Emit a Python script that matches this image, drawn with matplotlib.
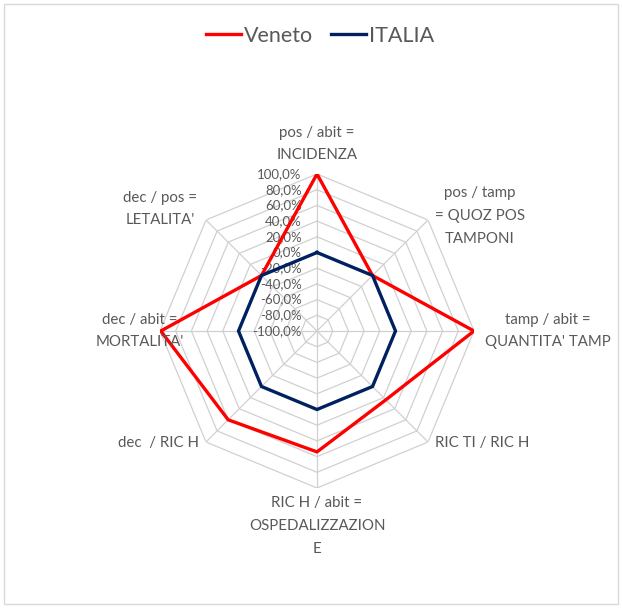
import numpy as np
import matplotlib
matplotlib.use('Agg')
from matplotlib import pyplot as plt
from matplotlib.patches import Rectangle

plt.rcParams['font.family'] = ['Lato', 'DejaVu Sans']

CATEGORIES = [
    "pos / abit =\nINCIDENZA",
    "pos / tamp\n= QUOZ POS\nTAMPONI",
    "tamp / abit =\nQUANTITA' TAMP",
    "RIC TI / RIC H",
    "RIC H / abit =\nOSPEDALIZZAZION\nE",
    "dec  / RIC H",
    "dec / abit =\nMORTALITA'",
    "dec / pos =\nLETALITA'",
]
VENETO = [100.0, 0.0, 100.0, 24.0, 54.0, 60.0, 99.0, 0.0]
ITALIA = [0.0, 0.0, 0.0, 0.0, 0.0, 0.0, 0.0, 0.0]
TICKS = [-100, -80, -60, -40, -20, 0, 20, 40, 60, 80, 100]

TEXT = '#595959'
GRID = '#D0D0D0'

W, H = 622, 608
fig = plt.figure(figsize=(W / 100, H / 100), dpi=100)
fig.patches.append(Rectangle((4 / W, 4 / H), 1 - 8 / W, 1 - 8 / H,
                             transform=fig.transFigure, fill=False,
                             edgecolor='#D9D9D9', linewidth=1))

cx, cy, rad = 317, 331, 157
ax = fig.add_axes([(cx - rad) / W, 1 - (cy + rad) / H, 2 * rad / W, 2 * rad / H],
                  projection='polar')
ax.set_theta_zero_location('N')
ax.set_theta_direction(-1)
ax.set_ylim(-100, 100)
ax.grid(False)
ax.spines['polar'].set_visible(False)
ax.set_xticks([])
ax.set_yticks([])
ax.patch.set_alpha(0)

n = len(CATEGORIES)
ang = np.linspace(0, 2 * np.pi, n, endpoint=False)
ang_c = np.append(ang, ang[0])

# octagonal grid
for t in TICKS[1:]:
    ax.plot(ang_c, [t] * (n + 1), color=GRID, lw=0.9, zorder=1)
for a in ang:
    ax.plot([a, a], [-100, 100], color=GRID, lw=0.9, zorder=1)

ax.plot(ang_c, np.append(VENETO, VENETO[0]), color='#FF0000', lw=2.4,
        label='Veneto', zorder=3, solid_joinstyle='miter')
ax.plot(ang_c, np.append(ITALIA, ITALIA[0]), color='#002060', lw=2.4,
        label='ITALIA', zorder=3, solid_joinstyle='miter')

for t in TICKS:
    ax.annotate(f"{t},0%", xy=(0, t), xytext=(-11, 0), textcoords='offset points',
                ha='right', va='center', fontsize=9.5, color=TEXT, zorder=2)

# category labels (pixel positions of label centres)
label_pos = [
    (317, 144),
    (480, 216),
    (548, 331),
    (482, 443),
    (317, 526),
    (159, 443),
    (140, 331),
    (160, 209),
]
for lab, (px, py) in zip(CATEGORIES, label_pos):
    fig.text(px / W, 1 - py / H, lab, ha='center', va='center', fontsize=10.8,
             color=TEXT, linespacing=1.8, multialignment='center')

leg = fig.legend(loc='center', bbox_to_anchor=(320 / W, 1 - 36 / H), ncol=2,
                 frameon=False, fontsize=15.5, handlelength=1.65,
                 handletextpad=0.15, columnspacing=0.8)
for t in leg.get_texts():
    t.set_color(TEXT)

plt.savefig('out.png', dpi=100)
